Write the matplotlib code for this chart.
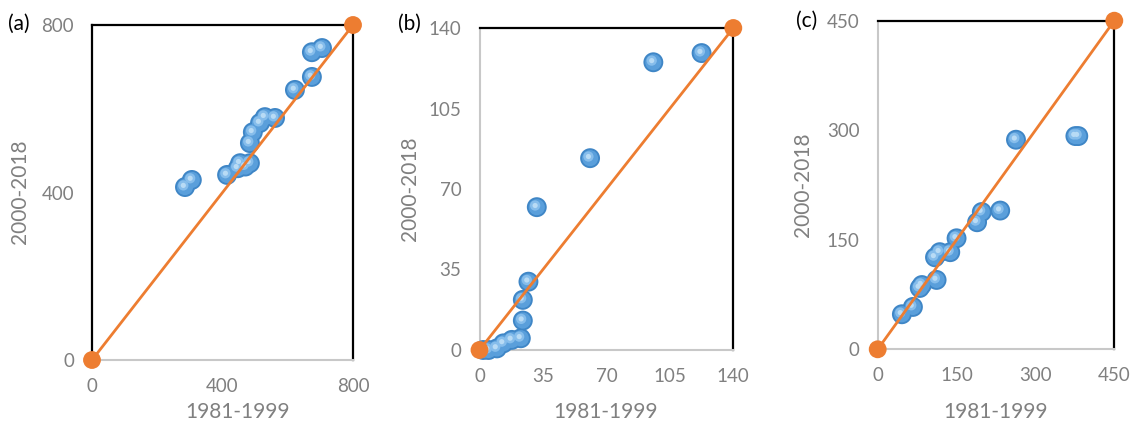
import matplotlib
matplotlib.use("Agg")
import matplotlib.pyplot as plt
import matplotlib.transforms as mtransforms
import numpy as np

plt.rcParams['font.family'] = ['Lato', 'DejaVu Sans']

# Panel (a)
a_x = [285, 306, 414, 447, 454, 484, 470, 484, 493, 515, 530, 561, 622, 674, 674, 705]
a_y = [413, 430, 442, 458, 470, 470, 462, 518, 544, 566, 580, 578, 645, 676, 735, 745]
a_max = 800
a_ticks = [0, 400, 800]

# Panel (b)
b_x = [122.5, 95.9, 61.0, 31.6, 27.0, 23.9, 23.9, 22.8, 17.8, 13.2, 9.6, 5.0, 2.0]
b_y = [129.1, 125.1, 83.4, 62.1, 29.7, 21.8, 12.8, 5.1, 4.4, 2.9, 0.7, 0.0, 0.0]
b_max = 140
b_ticks = [0, 35, 70, 105, 140]

# Panel (c)
c_x = [381.5, 376, 263, 233, 198, 189, 150, 138, 118, 109, 112, 84, 80, 67, 46]
c_y = [292, 292, 287, 190, 188, 174, 152, 133, 133, 126, 95, 88, 84, 58, 48]
c_max = 450
c_ticks = [0, 150, 300, 450]

panel_labels = ['(a)', '(b)', '(c)']
xlabel = '1981-1999'
ylabel = '2000-2018'

W, H = 1133, 421
fig = plt.figure(figsize=(W / 100, H / 100), dpi=100)

rects = [
    (92, 25, 353, 360),
    (479.5, 28, 733.3, 350),
    (877.7, 20.7, 1114.3, 349.3),
]
data = [(a_x, a_y, a_max, a_ticks), (b_x, b_y, b_max, b_ticks), (c_x, c_y, c_max, c_ticks)]
left_black = [True, False, False]
xlab_pix = [(238, 412), (606, 412), (996, 412)]
ylab_pix = [(20, 192), (410, 189), (803, 185)]
plab_pix = [(8, 24), (398, 24), (796, 21)]

gray = '#808080'
orange = '#ED7D31'

for i, ((l, t, r, b), (xs, ys, m, ticks)) in enumerate(zip(rects, data)):
    ax = fig.add_axes([l / W, 1 - b / H, (r - l) / W, (b - t) / H])
    ax.set_xlim(0, m)
    ax.set_ylim(0, m)
    ax.set_xticks(ticks)
    ax.set_yticks(ticks)
    ax.tick_params(length=0, labelsize=13.5, labelcolor=gray, pad=13)
    for s in ['top', 'right']:
        ax.spines[s].set_color('black')
        ax.spines[s].set_linewidth(1.6)
    ax.spines['bottom'].set_color('#c8c8c8')
    ax.spines['bottom'].set_linewidth(1.5)
    if left_black[i]:
        ax.spines['left'].set_color('black')
        ax.spines['left'].set_linewidth(1.6)
    else:
        ax.spines['left'].set_color('#c8c8c8')
        ax.spines['left'].set_linewidth(1.5)

    # sphere-like markers
    ax.scatter(xs, ys, s=205, color='#3f86c6', edgecolors='none', zorder=3, clip_on=False)
    ax.scatter(xs, ys, s=135, color='#5a9fdb', edgecolors='none', zorder=3, clip_on=False)
    off = mtransforms.ScaledTranslation(-1.2 / 72, 1.2 / 72, fig.dpi_scale_trans)
    ax.scatter(xs, ys, s=55, color='#86bdeb', edgecolors='none', zorder=3, clip_on=False,
               transform=ax.transData + off)
    ax.scatter(xs, ys, s=14, color='#b8dbf5', edgecolors='none', zorder=3, clip_on=False,
               transform=ax.transData + off)

    ax.plot([0, m], [0, m], color=orange, lw=2, zorder=4, clip_on=False)
    ax.scatter([0, m], [0, m], s=165, color=orange, edgecolors='none', zorder=5, clip_on=False)

    ax.set_xlabel(xlabel, fontsize=15, color=gray, va='center', ha='center')
    ax.set_ylabel(ylabel, fontsize=15, color=gray, va='center', ha='center')
    xl, yl = xlab_pix[i]
    ax.xaxis.set_label_coords((xl - l) / (r - l), (b - yl) / (b - t))
    yx, yy = ylab_pix[i]
    ax.yaxis.set_label_coords((yx - l) / (r - l), (b - yy) / (b - t))

    px, py = plab_pix[i]
    fig.text(px / W, 1 - py / H, panel_labels[i], fontsize=15, color='black',
             va='center', ha='left')

fig.savefig('out.png', dpi=100)
